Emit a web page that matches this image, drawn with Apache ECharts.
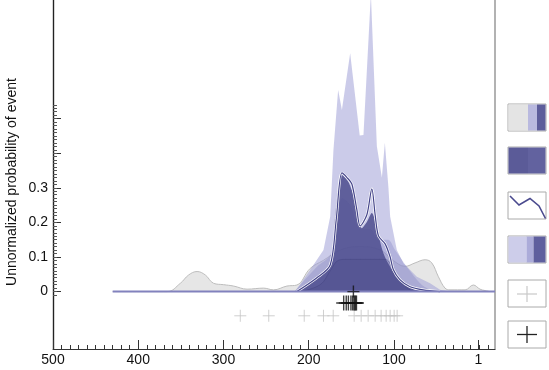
<!DOCTYPE html>
<html>
<head>
<meta charset="utf-8">
<script src="https://cdn.jsdelivr.net/npm/echarts@6/dist/echarts.min.js"></script>
<style>
  html, body { margin: 0; padding: 0; background: #fff; }
  #chart { width: 549px; height: 370px; }
</style>
</head>
<body>
<div id="chart"></div>
<script>
// ages (x) and unnormalized probabilities (y)
const grayAge = [430, 366, 350.6, 340.9, 331, 321.3, 311.6, 299.9, 288.1, 272.4, 253, 241.3, 225.6, 213.9, 198.3, 183, 163, 140, 116, 101, 86.9, 75.2, 63.5, 55.7, 47.9, 40.1, 34.3, 16.6, 6.9, -0.9, -6.8, -12.7];
const grayProb = [0, 0, 0.024, 0.048, 0.058, 0.048, 0.024, 0.02, 0.016, 0.007, 0.01, 0.005, 0.016, 0.019, 0.067, 0.09, 0.12, 0.13, 0.12, 0.09, 0.073, 0.083, 0.092, 0.083, 0.043, 0.01, 0.005, 0.005, 0.019, 0.007, 0.003, 0];

const lightAge = [216, 198.3, 182.7, 174.8, 171, 165.5, 161.1, 151.4, 140.2, 135.8, 127.1, 120.1, 114.2, 110.7, 106.5, 104.5, 96.7, 88.9, 73.2, 57.7, 46, 34];
const lightProb = [0, 0.063, 0.12, 0.217, 0.41, 0.583, 0.525, 0.689, 0.451, 0.453, 0.86, 0.42, 0.33, 0.43, 0.3, 0.217, 0.12, 0.082, 0.043, 0.024, 0.005, 0];

const midAge = [217, 190.4, 174.8, 168, 160.6, 151.4, 139.7, 128, 118.6, 106.9, 98.7, 85, 69.4, 57.7, 46];
const midProb = [0, 0.072, 0.106, 0.19, 0.27, 0.25, 0.18, 0.18, 0.15, 0.15, 0.12, 0.072, 0.024, 0.005, 0];

const darkAge = [214, 190.4, 174.8, 169, 161.1, 153.4, 143.5, 137.7, 131.8, 126, 119.8, 112.4, 104.5, 92.8, 73.2, 54.1];
const darkProb = [0, 0.043, 0.072, 0.217, 0.337, 0.317, 0.246, 0.183, 0.201, 0.227, 0.178, 0.111, 0.072, 0.034, 0.005, 0];

const plateauAge = [210, 186.6, 174.8, 165.5, 157.3, 110.4, 102.2, 92.8, 81.1, 69.4];
const plateauProb = [0, 0.02, 0.06, 0.09, 0.093, 0.093, 0.07, 0.03, 0.005, 0];

const lineAge = [214, 190.4, 174.8, 167.8, 161.1, 154.9, 149.4, 143.5, 139.7, 131.8, 126, 122.1, 118.2, 110.4, 104.5, 100.7, 92.8, 81.1, 65.9, 46];
const lineProb = [0, 0.04, 0.077, 0.207, 0.343, 0.329, 0.311, 0.236, 0.19, 0.222, 0.297, 0.222, 0.161, 0.138, 0.1, 0.063, 0.034, 0.014, 0.005, 0];

const baseAge = [430, -18.5];

const blackCrossAge = [159, 156, 153.5, 150.5, 148.5, 147, 146, 145, 144];
const blackCrossRow = -0.033;
const topCrossAge = [147.6];
const grayCrossAge = [280.3, 246.9, 205.3, 182.7, 171.3, 146.7, 138.5, 130.3, 122.1, 115.1, 109.2, 104.5, 99.8, 96.3];
const grayCrossRow = -0.07;

const xMajorTicks = [500, 400, 300, 200, 100, 1];
const yMajorTicks = [0, 0.1, 0.2, 0.3, 0.4, 0.5];
const yLabels = [0, 0.1, 0.2, 0.3];

function zip(xs, ys) {
  return xs.map((x, i) => [x, ys[i]]);
}

const xMinor = [];
for (let v = 490; v >= -10; v -= 10) xMinor.push(v);
const yMinor = [];
for (let k = -1; k <= 54; k++) yMinor.push(+(k / 100).toFixed(2));

const crossPath = "path://M5,0L5,10M0,5L10,5";
const fontFamily = "Liberation Sans, Arial";
const xRange = { min: -18.5, max: 500 };
const yRange = { min: -0.166, max: 0.843 };
const gridBox = { left: 53, right: 54, top: 0, bottom: 21 };

const chart = echarts.init(document.getElementById("chart"));

const areaSeries = (data, fill, z, smooth, border) => ({
  type: "line",
  data: data,
  z: z,
  smooth: smooth,
  showSymbol: false,
  silent: true,
  lineStyle: border ? { color: border, width: 1 } : { width: 0 },
  areaStyle: { color: fill, opacity: 1 },
});

const legendBox = (y) => ({
  type: "rect",
  shape: { x: 508, y: y, width: 38, height: 27 },
  style: { fill: "#fff", stroke: "#aaa", lineWidth: 1 },
});

chart.setOption({
  animation: false,
  // grid 0 carries the data and major ticks, grid 1 (same box) the minor ticks and frame lines
  grid: [gridBox, gridBox],
  xAxis: [
    {
      gridIndex: 0,
      type: "value",
      inverse: true,
      ...xRange,
      position: "bottom",
      splitLine: { show: false },
      axisLine: { show: true, onZero: false, lineStyle: { color: "#333", width: 1 } },
      axisTick: { show: true, inside: true, length: 9, customValues: xMajorTicks, lineStyle: { color: "#333" } },
      axisLabel: {
        customValues: xMajorTicks,
        color: "#111",
        fontSize: 14,
        fontFamily: fontFamily,
        margin: 4,
      },
    },
    {
      gridIndex: 1,
      type: "value",
      inverse: true,
      ...xRange,
      position: "bottom",
      splitLine: { show: false },
      axisLine: { show: false, onZero: false },
      axisTick: { show: true, inside: true, length: 4, customValues: xMinor, lineStyle: { color: "#333" } },
      axisLabel: { show: false },
    },
  ],
  yAxis: [
    {
      gridIndex: 0,
      type: "value",
      ...yRange,
      position: "left",
      splitLine: { show: false },
      axisLine: { show: true, onZero: false, lineStyle: { color: "#222", width: 1.2 } },
      axisTick: { show: true, inside: true, length: 8, customValues: yMajorTicks, lineStyle: { color: "#333" } },
      axisLabel: {
        customValues: yLabels,
        formatter: (v) => (v === 0 ? "0" : v.toFixed(1)),
        color: "#111",
        fontSize: 14,
        fontFamily: fontFamily,
        margin: 5,
      },
    },
    {
      gridIndex: 1,
      type: "value",
      ...yRange,
      position: "left",
      splitLine: { show: false },
      axisLine: { show: true, onZero: false, lineStyle: { color: "#222", width: 1.2 } },
      axisTick: { show: true, inside: true, length: 4, customValues: yMinor, lineStyle: { color: "#555" } },
      axisLabel: { show: false },
    },
    {
      gridIndex: 1,
      type: "value",
      ...yRange,
      position: "right",
      splitLine: { show: false },
      axisLine: { show: true, onZero: false, lineStyle: { color: "#999", width: 1.5 } },
      axisTick: { show: false },
      axisLabel: { show: false },
    },
  ],
  graphic: [
    {
      type: "text",
      x: 12,
      y: 182,
      rotation: Math.PI / 2,
      style: {
        text: "Unnormalized probability of event",
        fill: "#111",
        fontSize: 14,
        fontFamily: fontFamily,
        align: "center",
        verticalAlign: "middle",
      },
    },
    // legend 1: gray | light | dark
    legendBox(104),
    { type: "rect", shape: { x: 508.5, y: 104.5, width: 19.5, height: 26 }, style: { fill: "#e4e4e4" } },
    { type: "rect", shape: { x: 528, y: 104.5, width: 9, height: 26 }, style: { fill: "#b9b9df" } },
    { type: "rect", shape: { x: 537, y: 104.5, width: 8.5, height: 26 }, style: { fill: "#5d5d9b" } },
    // legend 2: two dark shades
    legendBox(147),
    { type: "rect", shape: { x: 508.5, y: 147.5, width: 19.5, height: 26 }, style: { fill: "#5b5b98" } },
    { type: "rect", shape: { x: 528, y: 147.5, width: 17.5, height: 26 }, style: { fill: "#62629f" } },
    // legend 3: line
    legendBox(192),
    {
      type: "polyline",
      shape: { points: [[510, 196], [519, 205], [530, 198.5], [539, 206], [545.5, 218.5]] },
      style: { stroke: "#4a4a8e", lineWidth: 1.6, fill: null },
    },
    // legend 4: light | medium | dark
    legendBox(236),
    { type: "rect", shape: { x: 508.5, y: 236.5, width: 18, height: 26 }, style: { fill: "#cdcdea" } },
    { type: "rect", shape: { x: 526.5, y: 236.5, width: 7, height: 26 }, style: { fill: "#ababd9" } },
    { type: "rect", shape: { x: 533.5, y: 236.5, width: 12, height: 26 }, style: { fill: "#5f5f9e" } },
    // legend 5: gray cross
    legendBox(280),
    { type: "line", shape: { x1: 527, y1: 286, x2: 527, y2: 302 }, style: { stroke: "#c8c8c8", lineWidth: 1.2 } },
    { type: "line", shape: { x1: 517, y1: 294, x2: 537, y2: 294 }, style: { stroke: "#c8c8c8", lineWidth: 1.2 } },
    // legend 6: black cross
    legendBox(321),
    { type: "line", shape: { x1: 527, y1: 326, x2: 527, y2: 343 }, style: { stroke: "#222", lineWidth: 1.3 } },
    { type: "line", shape: { x1: 517, y1: 334.5, x2: 537, y2: 334.5 }, style: { stroke: "#222", lineWidth: 1.3 } },
  ],
  series: [
    areaSeries(zip(grayAge, grayProb), "#e6e6e6", 1, 0.4, "#bdbdbd"),
    areaSeries(zip(lightAge, lightProb), "rgba(160,160,215,0.55)", 2, false),
    areaSeries(zip(midAge, midProb), "rgba(120,120,190,0.3)", 3, 0.3),
    areaSeries(zip(darkAge, darkProb), "rgba(80,80,145,0.88)", 4, 0.3),
    areaSeries(zip(plateauAge, plateauProb), "rgba(60,60,120,0.15)", 5, 0.4, "rgba(60,60,120,0.35)"),
    {
      type: "line",
      data: zip(lineAge, lineProb),
      z: 6,
      smooth: 0.3,
      showSymbol: false,
      lineStyle: { color: "#ffffff", width: 2.6 },
    },
    {
      type: "line",
      data: zip(lineAge, lineProb),
      z: 7,
      smooth: 0.3,
      showSymbol: false,
      lineStyle: { color: "#45458a", width: 1.2 },
    },
    {
      type: "line",
      data: baseAge.map((a) => [a, 0]),
      z: 8,
      showSymbol: false,
      lineStyle: { color: "#8282bd", width: 2 },
    },
    {
      type: "scatter",
      data: grayCrossAge.map((a) => [a, grayCrossRow]),
      z: 9,
      symbol: crossPath,
      symbolSize: 12,
      itemStyle: { color: "none", borderColor: "#c4c4c4", borderWidth: 1 },
    },
    {
      type: "scatter",
      data: blackCrossAge.map((a) => [a, blackCrossRow]),
      z: 10,
      symbol: crossPath,
      symbolSize: 15,
      itemStyle: { color: "none", borderColor: "#111", borderWidth: 1.4 },
    },
    {
      type: "scatter",
      data: topCrossAge.map((a) => [a, 0]),
      z: 10,
      symbol: crossPath,
      symbolSize: 12,
      itemStyle: { color: "none", borderColor: "#111", borderWidth: 1.4 },
    },
  ],
});
</script>
</body>
</html>
